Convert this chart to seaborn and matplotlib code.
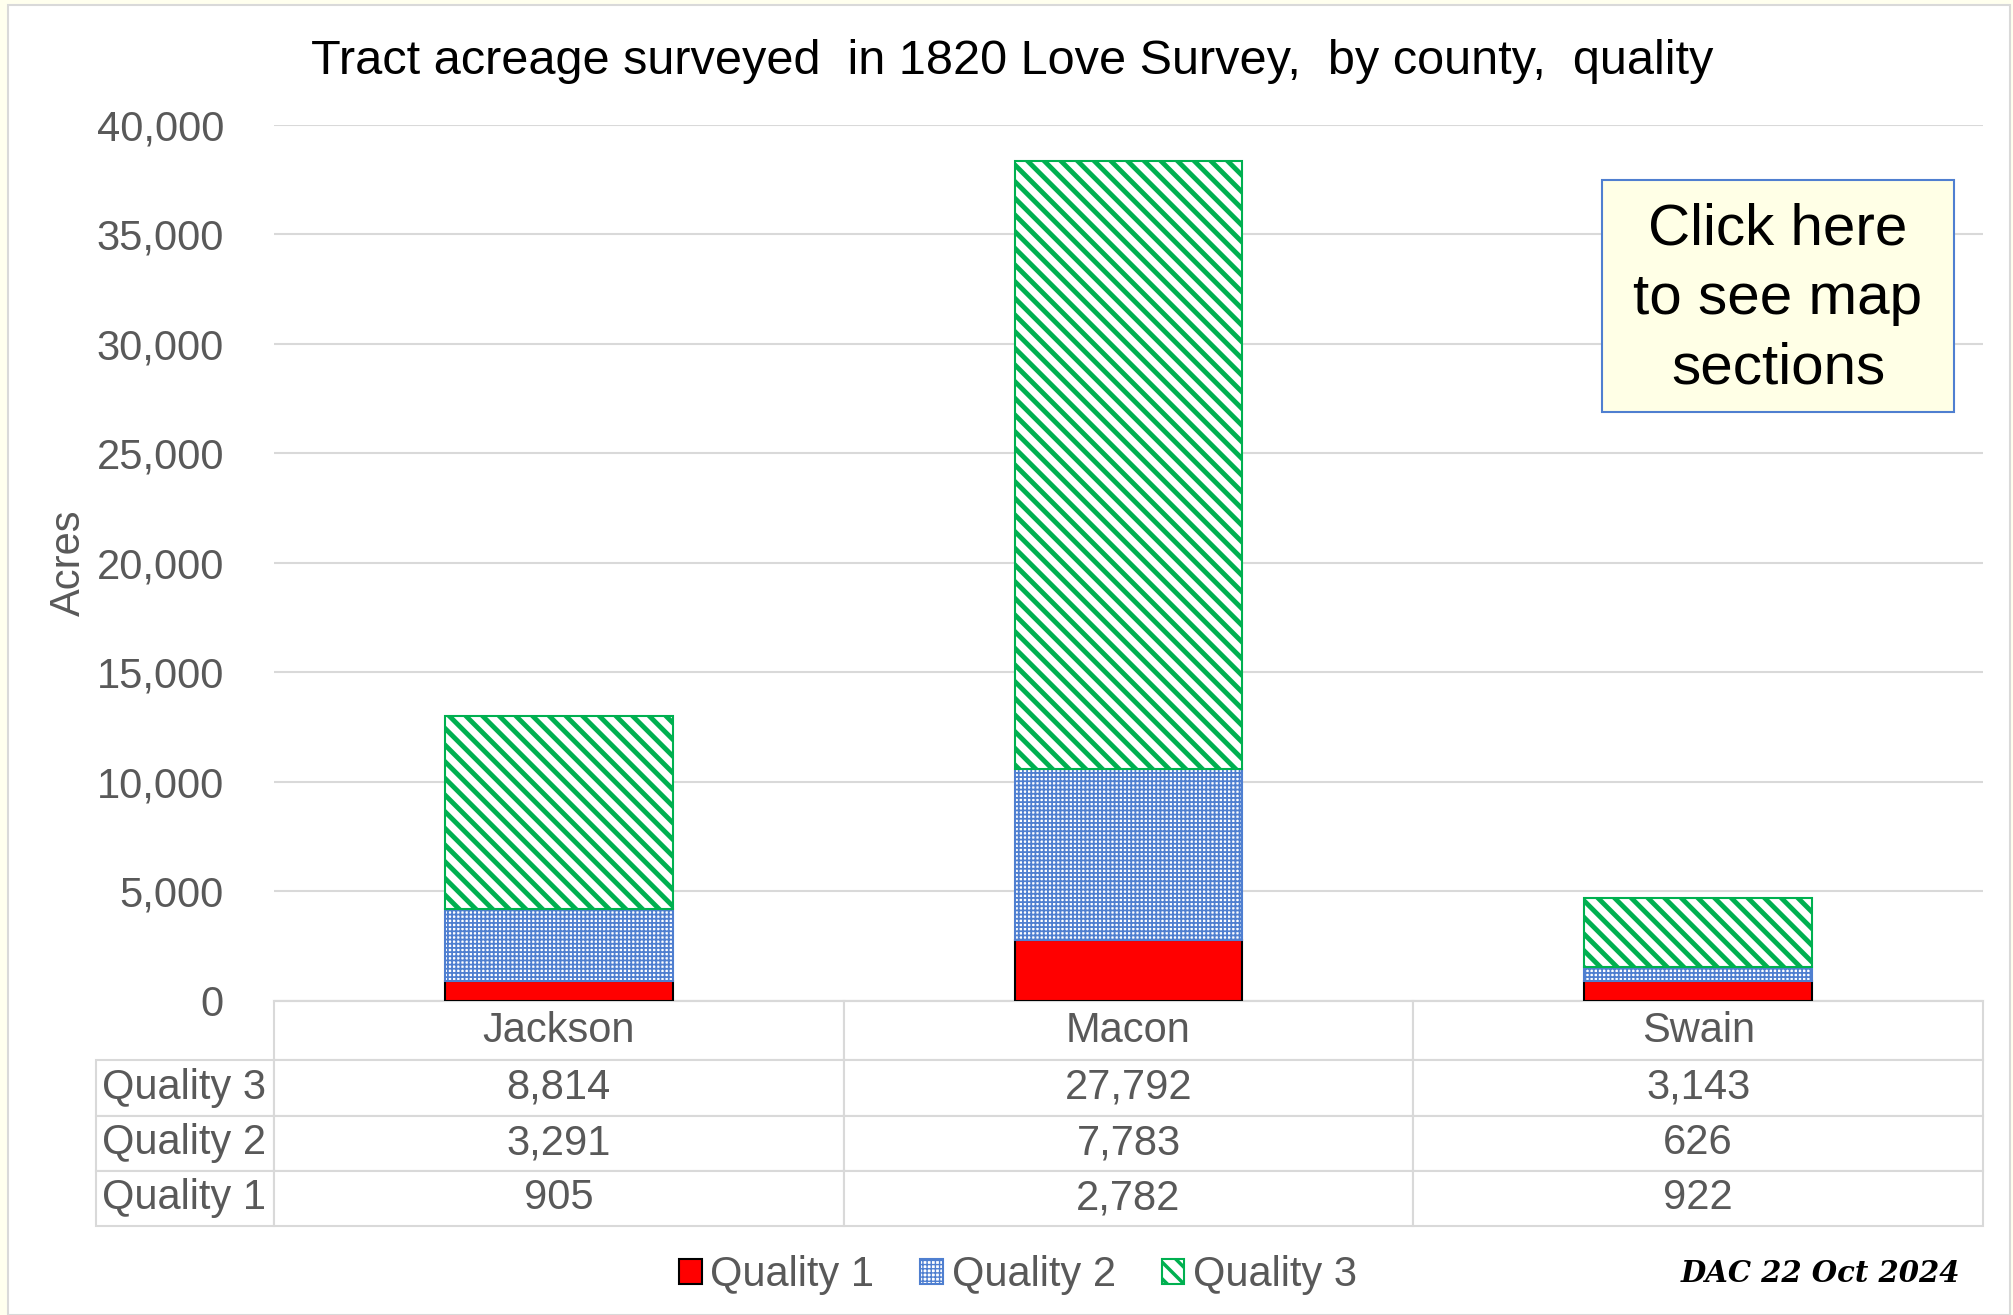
import matplotlib
matplotlib.use("Agg")
import matplotlib.pyplot as plt
import seaborn as sns
import pandas as pd
from matplotlib.patches import Rectangle, Patch
from matplotlib.ticker import FuncFormatter

counties = ["Jackson", "Macon", "Swain"]
quality_labels = ["Quality 1", "Quality 2", "Quality 3"]
quality1 = [905, 2782, 922]
quality2 = [3291, 7783, 626]
quality3 = [8814, 27792, 3143]
y_ticks = [0, 5000, 10000, 15000, 20000, 25000, 30000, 35000, 40000]

df = pd.DataFrame({"County": counties, "Q1": quality1, "Q2": quality2, "Q3": quality3})
df["B2"] = df["Q1"]
df["B3"] = df["Q1"] + df["Q2"]

sns.set_style("white")
plt.rcParams["font.family"] = ["Liberation Sans", "DejaVu Sans"]
plt.rcParams["hatch.linewidth"] = 3.5

W, H = 2013, 1315
fig = plt.figure(figsize=(W / 100, H / 100), dpi=100)
fig.patch.set_facecolor("#FFFFEE")
fig.patches.append(Rectangle((8 / W, 0), 2002 / W, 1 - 5 / H, transform=fig.transFigure,
                             facecolor="white", edgecolor="#D9D9D9", linewidth=1.5, zorder=-10))

ax = fig.add_axes([274 / W, 1 - 1001 / H, 1709 / W, 876.5 / H])
ax.set_facecolor("white")

grey = "#595959"
fs = 30
styles = [
    dict(col="Q1", bottom=None, color="#FF0000", edge="#000000", hatch=None),
    dict(col="Q2", bottom="B2", color="#FFFFFF", edge="#4F7FD0", hatch="++++"),
    dict(col="Q3", bottom="B3", color="#FFFFFF", edge="#00B050", hatch="\\\\"),
]
for s in styles:
    kw = {}
    if s["bottom"]:
        kw["bottom"] = df[s["bottom"]].values
    sns.barplot(data=df, x="County", y=s["col"], ax=ax, color=s["color"], saturation=1,
                errorbar=None, width=0.4, edgecolor=s["edge"], linewidth=1.5,
                hatch=s["hatch"], zorder=3, **kw)

# finer hatch for quality 2 bars
for p in ax.patches[3:6]:
    if hasattr(p, "set_hatch_linewidth"):
        p.set_hatch_linewidth(1.3)

ax.set_ylim(0, 40000)
ax.set_xlim(-0.5, 2.5)
ax.set_yticks(y_ticks)
ax.yaxis.set_major_formatter(FuncFormatter(lambda v, _: f"{int(v):,}"))
ax.tick_params(axis="y", labelsize=fs, labelcolor=grey, length=0, pad=36)
ax.set_xticks([0, 1, 2])
ax.set_xticklabels([])
ax.tick_params(axis="x", length=0)
ax.set_xlabel("")
ax.set_ylabel("Acres", fontsize=fs, color=grey)
ax.yaxis.set_label_coords(-0.1085, 0.5)
ax.grid(axis="y", color="#D9D9D9", linewidth=1.5, zorder=0)
ax.set_axisbelow(True)
for side in ["left", "right", "top"]:
    ax.spines[side].set_visible(False)
ax.spines["bottom"].set_color("#D9D9D9")
ax.spines["bottom"].set_linewidth(1.5)

# data table under the plot
cell_text = [[f"{v:,}" for v in quality3],
             [f"{v:,}" for v in quality2],
             [f"{v:,}" for v in quality1]]
rl_w = 178 / 1709
tbl = ax.table(cellText=cell_text, rowLabels=["Quality 3", "Quality 2", "Quality 1"],
               colLabels=counties, colWidths=[1 / 3] * 3,
               cellLoc="center", rowLoc="left",
               bbox=[0, -225 / 876.5, 1, 225 / 876.5])
tbl._autoColumns = []
tbl.auto_set_font_size(False)
tbl.set_fontsize(fs)
for (r, c), cell in tbl.get_celld().items():
    cell.set_edgecolor("#D9D9D9")
    cell.set_linewidth(1.5)
    cell.get_text().set_color(grey)
    cell.set_height(59 if r == 0 else 55)
    if c == -1:
        cell.set_width(rl_w)
        cell.PAD = 0.035

fig.text(1012 / W, 1 - 61 / H, "Tract acreage surveyed  in 1820 Love Survey,  by county,  quality",
         ha="center", va="center", fontsize=35, color="black")

# legend
handles = [
    Patch(facecolor="#FF0000", edgecolor="#000000", linewidth=1.5),
    Patch(facecolor="#FFFFFF", edgecolor="#4F7FD0", hatch="++++", linewidth=1.5),
    Patch(facecolor="#FFFFFF", edgecolor="#00B050", hatch="\\\\", linewidth=1.5),
]
leg = fig.legend(handles, quality_labels, loc="center", bbox_to_anchor=(1018 / W, 1 - 1275 / H),
                 ncol=3, frameon=False, fontsize=fs, labelcolor=grey, handlelength=0.55,
                 handleheight=0.55, handletextpad=0.2, columnspacing=1.1)
lp = leg.get_patches()
if hasattr(lp[1], "set_hatch_linewidth"):
    lp[1].set_hatch_linewidth(1.0)
    lp[2].set_hatch_linewidth(2.5)

fig.text(1820 / W, 1 - 1273 / H, "DAC 22 Oct 2024", ha="center", va="center", fontsize=21,
         style="italic", fontweight="bold", family=["DejaVu Serif"], color="black")

# "click here" box
fig.patches.append(Rectangle((1602 / W, 1 - 412 / H), 352 / W, 232 / H, transform=fig.transFigure,
                             facecolor="#FFFFE6", edgecolor="#4F7FD0", linewidth=1.5, zorder=5))
fig.text(1778 / W, 1 - 299 / H, "Click here\nto see map\nsections", ha="center", va="center",
         fontsize=42, color="black", linespacing=1.36, zorder=6)

fig.savefig("out.png", dpi=100, facecolor=fig.get_facecolor())
